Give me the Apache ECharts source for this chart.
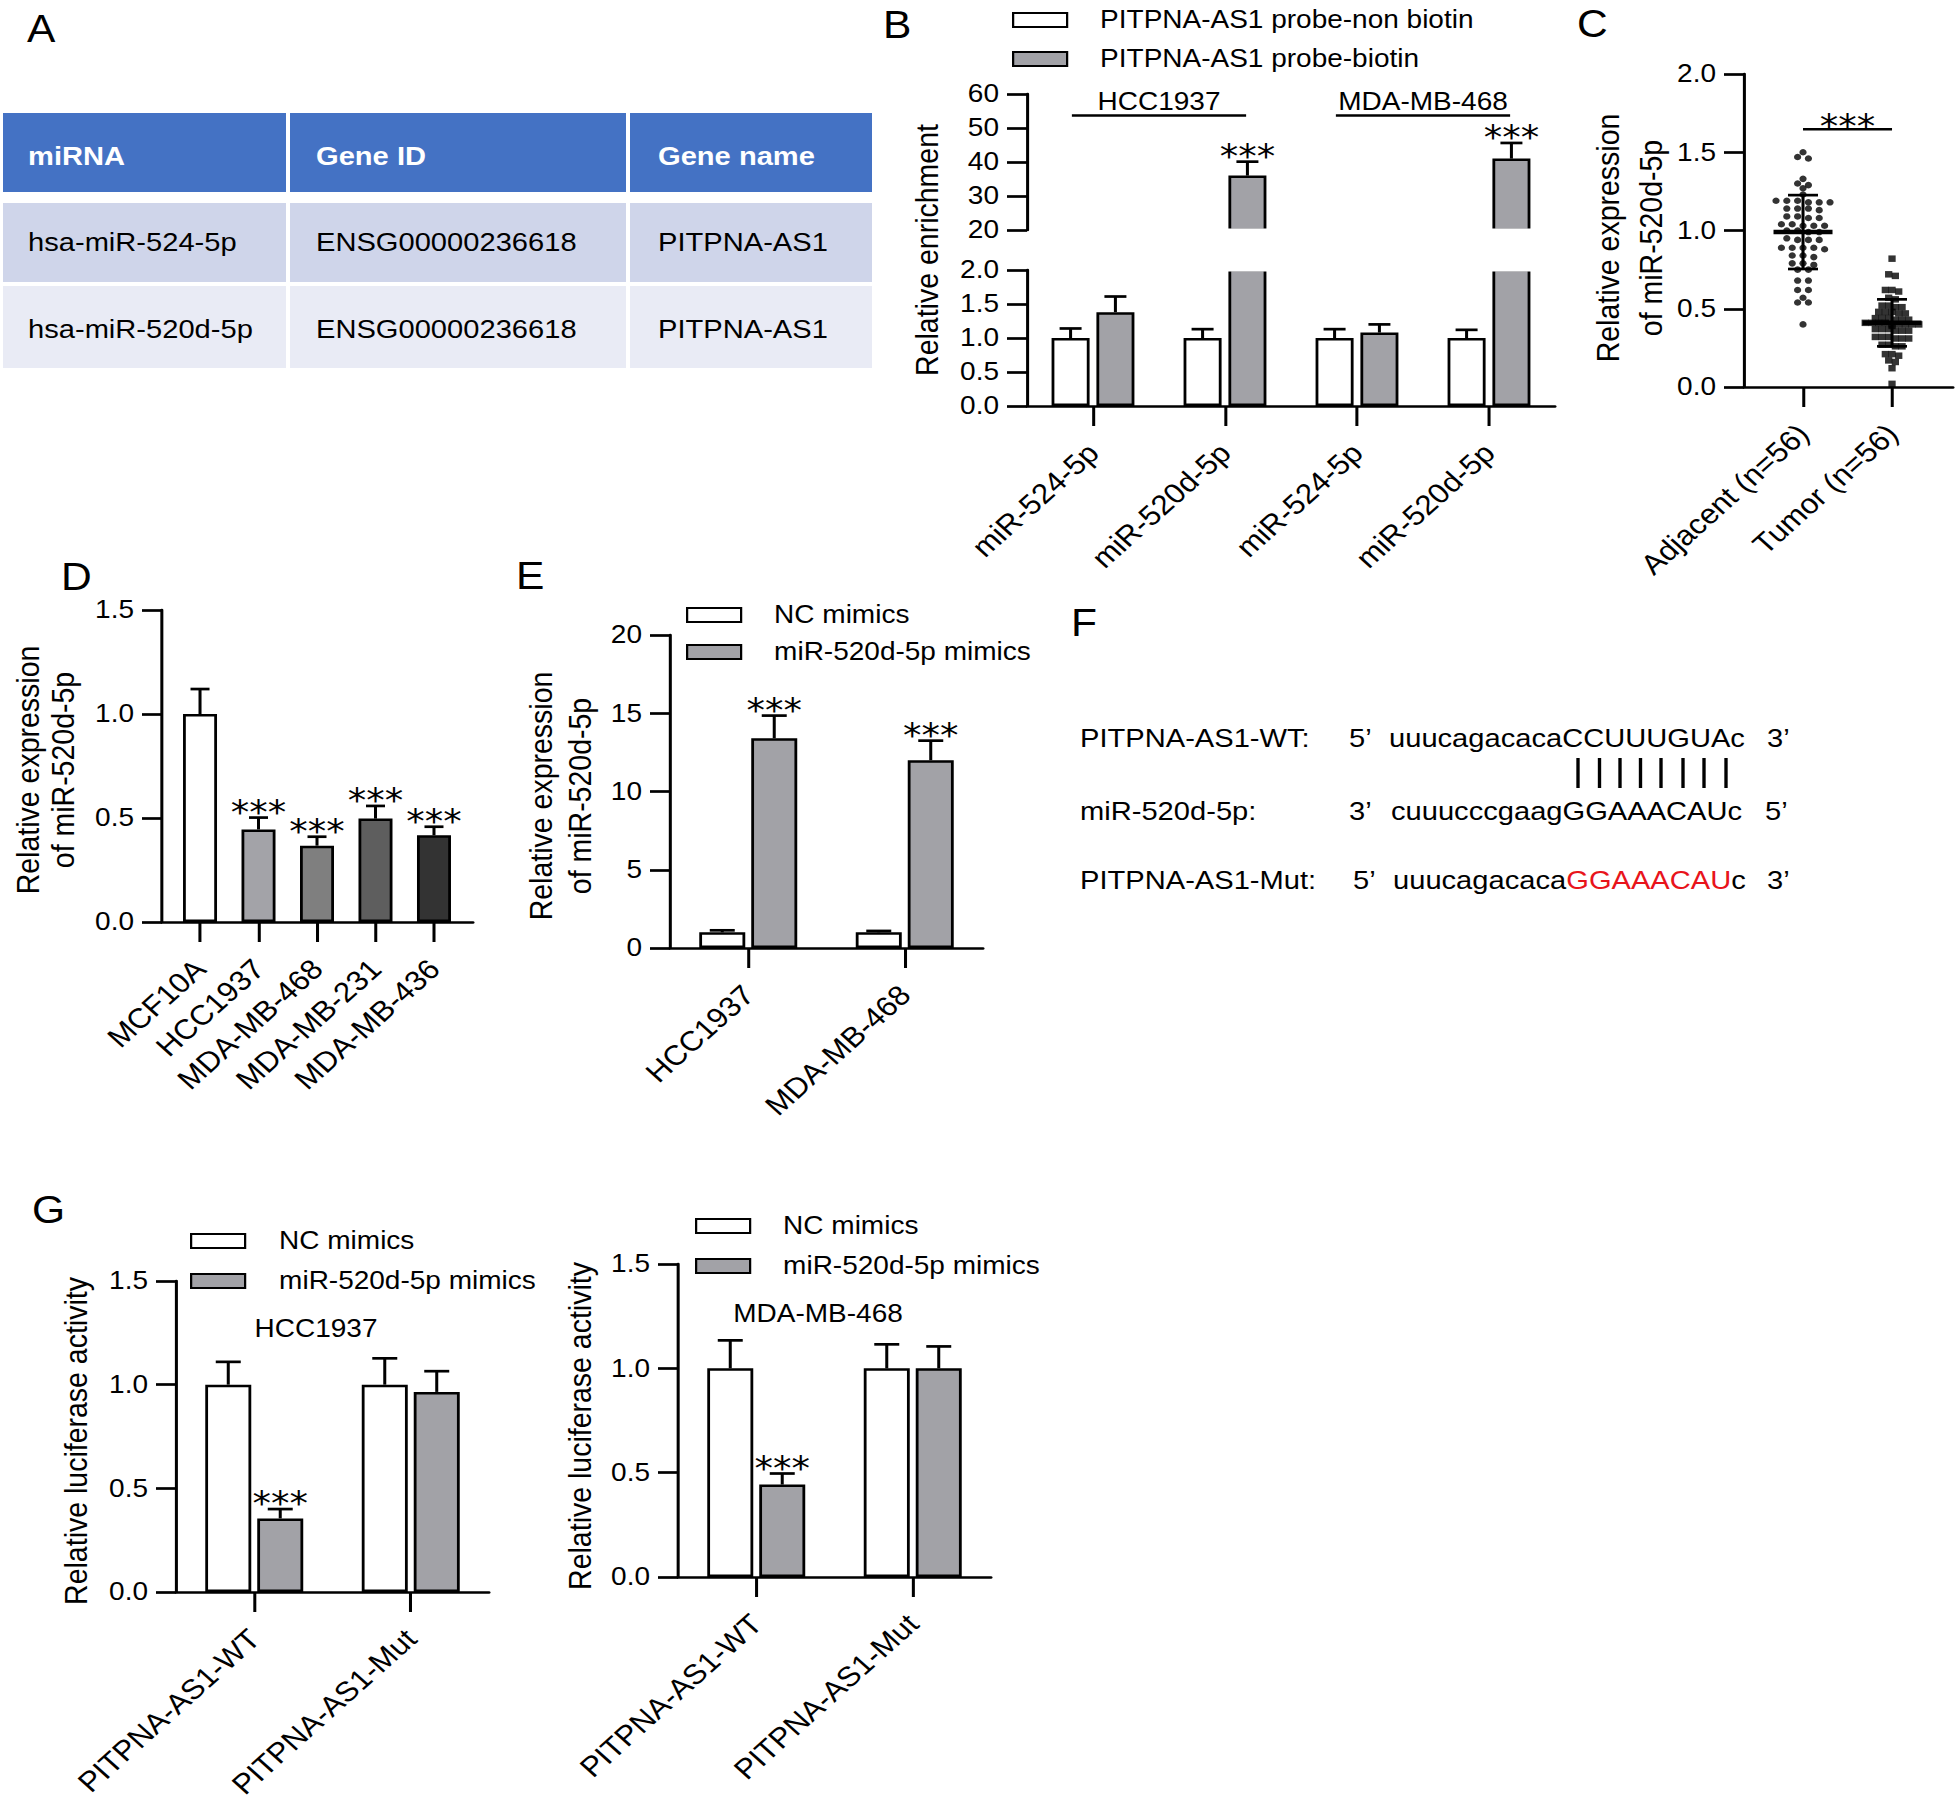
<!DOCTYPE html>
<html>
<head>
<meta charset="utf-8">
<script src="https://cdn.jsdelivr.net/npm/echarts@6.0.0/dist/echarts.min.js"></script>
<style>
html,body{margin:0;padding:0;background:#fff;overflow:hidden;}
#chart{width:1750px;height:1814px;transform:scaleX(1.12);transform-origin:0 0;}
</style>
</head>
<body>
<div id="chart"></div>
<script>
// ---------------- DATA ----------------
// Panel A
const tableHeader = ['miRNA', 'Gene ID', 'Gene name'];
const tableRow1 = ['hsa-miR-524-5p', 'ENSG00000236618', 'PITPNA-AS1'];
const tableRow2 = ['hsa-miR-520d-5p', 'ENSG00000236618', 'PITPNA-AS1'];

// Panel B
const B_categories = ['miR-524-5p', 'miR-520d-5p', 'miR-524-5p', 'miR-520d-5p'];
const B_groups = ['HCC1937', 'MDA-MB-468'];
const B_groupSpan = [[0, 1], [2, 3]];
const B_series = ['PITPNA-AS1 probe-non biotin', 'PITPNA-AS1 probe-biotin'];
const B_nonBiotin = [1.0, 1.0, 1.0, 1.0];
const B_nonBiotinErr = [0.14, 0.13, 0.13, 0.12];
const B_biotin = [1.38, 36.0, 1.08, 41.0];
const B_biotinErr = [0.23, 4.1, 0.12, 4.6];
const B_sig = ['', '***', '', '***'];

// Panel C
const C_categories = ['Adjacent (n=56)', 'Tumor (n=56)'];
const C_adjacent = [1.50, 1.47, 1.46, 1.33, 1.30, 1.29, 1.27, 1.23, 1.19, 1.18, 1.18, 1.19, 1.18, 1.19,
  1.14, 1.14, 1.14, 1.13, 1.09, 1.08, 1.08, 1.09, 1.04, 1.03, 1.03, 1.04, 1.03, 1.00, 0.99, 1.00, 0.99,
  0.95, 0.94, 0.94, 0.94, 0.89, 0.89, 0.89, 0.89, 0.88, 0.84, 0.83, 0.84, 0.79, 0.78, 0.79, 0.75, 0.75,
  0.68, 0.68, 0.62, 0.62, 0.54, 0.54, 0.57, 0.40];
const C_tumor = [0.82, 0.72, 0.71, 0.62, 0.61, 0.62, 0.57, 0.56, 0.52, 0.51, 0.52, 0.51,
  0.48, 0.47, 0.48, 0.47, 0.48, 0.44, 0.43, 0.44, 0.43, 0.44, 0.43,
  0.40, 0.41, 0.40, 0.41, 0.40, 0.41, 0.40, 0.41, 0.40, 0.39,
  0.37, 0.36, 0.37, 0.36, 0.37, 0.36, 0.32, 0.31, 0.32, 0.31, 0.32, 0.31,
  0.27, 0.26, 0.27, 0.26, 0.21, 0.20, 0.21, 0.17, 0.16, 0.12, 0.02];
const C_mean = [0.99, 0.41];
const C_sd = [0.236, 0.15];
const C_sig = '***';

// Panel D
const D_categories = ['MCF10A', 'HCC1937', 'MDA-MB-468', 'MDA-MB-231', 'MDA-MB-436'];
const D_values = [1.0, 0.445, 0.367, 0.497, 0.417];
const D_err = [0.12, 0.057, 0.043, 0.061, 0.041];
const D_sig = ['', '***', '***', '***', '***'];

// Panel E
const E_categories = ['HCC1937', 'MDA-MB-468'];
const E_series = ['NC mimics', 'miR-520d-5p mimics'];
const E_nc = [1.0, 1.0];
const E_ncErr = [0.13, 0.09];
const E_mimics = [13.4, 12.0];
const E_mimicsErr = [1.45, 1.25];
const E_sig = ['***', '***'];

// Panel F
const F_labels = ['PITPNA-AS1-WT:', 'miR-520d-5p:', 'PITPNA-AS1-Mut:'];
const F_leftEnds = ['5\u2019', '3\u2019', '5\u2019'];
const F_rightEnds = ['3\u2019', '5\u2019', '3\u2019'];
const F_wt = 'uuucagacacaCCUUUGUAc';
const F_mir = 'cuuucccgaagGGAAACAUc';
const F_mutParts = ['uuucagacaca', 'GGAAACAU', 'c'];

// Panel G
const G_categories = ['PITPNA-AS1-WT', 'PITPNA-AS1-Mut'];
const G_series = ['NC mimics', 'miR-520d-5p mimics'];
const G_titles = ['HCC1937', 'MDA-MB-468'];
const G1_nc = [1.0, 1.0];
const G1_ncErr = [0.11, 0.127];
const G1_mimics = [0.355, 0.965];
const G1_mimicsErr = [0.045, 0.10];
const G1_sig = ['***', ''];
const G2_nc = [1.0, 1.0];
const G2_ncErr = [0.134, 0.115];
const G2_mimics = [0.443, 1.0];
const G2_mimicsErr = [0.053, 0.105];
const G2_sig = ['***', ''];

// ---------------- STYLE / LAYOUT ----------------
const SX = 1.12;                 // horizontal stretch of the whole figure
const X = v => v / SX;           // full-image x -> chart x
const FONT = "'Liberation Sans', Arial, Helvetica, sans-serif";
const STAR_FONT = "'DejaVu Sans', sans-serif";
const LW = 2.7;
const BB = 2.5;
const WHITE = '#ffffff';
const GRAY = '#a2a2a7';
const D_colors = ['#ffffff', '#a3a3a8', '#7f7f7f', '#5e5e5e', '#333333'];
const FS = 25;        // tick labels / legend
const FS_X = 28;      // rotated category labels
const FS_T = 28.5;    // axis titles

const chart = echarts.init(document.getElementById('chart'), null, {renderer: 'svg', width: 1750, height: 1814});

const grids = [
  {left: X(1027), top: 94, width: X(528), height: 136},   // 0 B upper
  {left: X(1027), top: 270, width: X(528), height: 136},  // 1 B lower
  {left: X(1744), top: 74, width: X(209), height: 313},   // 2 C
  {left: X(162), top: 610, width: X(311), height: 312},   // 3 D
  {left: X(670), top: 635, width: X(313), height: 313},   // 4 E
  {left: X(176), top: 1281, width: X(313), height: 311},  // 5 G1
  {left: X(678), top: 1264, width: X(313), height: 313}   // 6 G2
].map(g => Object.assign({containLabel: false, outerBoundsMode: 'none'}, g));

const axisLineStyle = {color: '#000', width: LW};
function yAx(gi, min, max, interval, dec) {
  return {type: 'value', gridIndex: gi, min, max, interval,
    axisLine: {show: true, onZero: false, lineStyle: axisLineStyle},
    axisTick: {show: true, length: X(20), lineStyle: axisLineStyle},
    axisLabel: {fontSize: FS, color: '#000', fontFamily: FONT, margin: X(28),
      formatter: v => v.toFixed(dec)},
    splitLine: {show: false}};
}
const labelMargin = 42;
function xCat(gi, cats, show) {
  return {type: 'category', gridIndex: gi, data: cats, boundaryGap: true, show: show !== false,
    axisLine: {show: true, onZero: false, lineStyle: axisLineStyle},
    axisTick: {show: true, alignWithLabel: true, interval: 0, length: 20, lineStyle: axisLineStyle},
    axisLabel: {rotate: 45, interval: 0, fontSize: FS_X, color: '#000', fontFamily: FONT, margin: labelMargin},
    splitLine: {show: false}};
}
function xVal(gi, cats, min, max) {
  const idx = cats.map((c, i) => i);
  return {type: 'value', gridIndex: gi, min, max,
    axisLine: {show: true, onZero: false, lineStyle: axisLineStyle},
    axisTick: {show: true, customValues: idx, length: 20, lineStyle: axisLineStyle},
    axisLabel: {customValues: idx, rotate: 45, fontSize: FS_X, color: '#000', fontFamily: FONT, margin: labelMargin,
      formatter: v => cats[Math.round(v)]},
    splitLine: {show: false}};
}

const xAxes = [
  xCat(0, B_categories, false),
  xCat(1, B_categories),
  xVal(2, C_categories, -0.663, 1.685),
  xVal(3, D_categories, -0.65, 4.667),
  xCat(4, E_categories),
  xCat(5, G_categories),
  xCat(6, G_categories)
];
const yAxes = [
  yAx(0, 20, 60, 10, 0),
  yAx(1, 0, 2, 0.5, 1),
  yAx(2, 0, 2, 0.5, 1),
  yAx(3, 0, 1.5, 0.5, 1),
  yAx(4, 0, 20, 5, 0),
  yAx(5, 0, 1.5, 0.5, 1),
  yAx(6, 0, 1.5, 0.5, 1)
];

function bar(name, gi, data, color, width, gap) {
  return {type: 'bar', name, xAxisIndex: gi, yAxisIndex: gi, data, barWidth: width, barGap: gap,
    clip: true, silent: true, emphasis: {disabled: true}, z: 2,
    itemStyle: {color, borderColor: '#000', borderWidth: BB}};
}
const STAR_SIZE = 33;
function starText(x, y, s) {
  return {type: 'text', x, y, silent: true,
    style: {text: s, fontSize: STAR_SIZE, fontFamily: STAR_FONT, fill: '#000', align: 'center', verticalAlign: 'middle'}};
}
function err(gi, vals, errs, offset, cap, sig) {
  return {type: 'custom', xAxisIndex: gi, yAxisIndex: gi, silent: true, z: 4,
    data: vals.map((v, i) => [i, v, errs[i]]),
    renderItem(params, api) {
      const i = api.value(0), v = api.value(1), e = api.value(2);
      const cs = params.coordSys;
      const p0 = api.coord([i, v]), p1 = api.coord([i, v + e]);
      if (p0[1] > cs.y + cs.height + 1 || p1[1] < cs.y - 1) return null;
      const x = p0[0] + offset;
      const ch = [
        {type: 'line', shape: {x1: x, y1: p0[1], x2: x, y2: p1[1]}, style: {stroke: '#000', lineWidth: LW}},
        {type: 'line', shape: {x1: x - cap / 2, y1: p1[1], x2: x + cap / 2, y2: p1[1]}, style: {stroke: '#000', lineWidth: LW}}
      ];
      const s = sig && sig[params.dataIndex];
      if (s) ch.push(starText(x, p1[1] - 5.5, s));
      return {type: 'group', children: ch};
    }};
}

// beeswarm-like horizontal spreading of points with similar values
function beeswarm(values, tol) {
  const order = values.map((v, i) => i).sort((a, b) => values[b] - values[a]);
  const slots = new Array(values.length);
  let row = [], start = null;
  const flush = () => { row.forEach((id, k) => { slots[id] = k - (row.length - 1) / 2; }); row = []; };
  order.forEach(id => {
    if (start === null || start - values[id] > tol) { flush(); start = values[id]; }
    row.push(id);
  });
  flush();
  return slots;
}

const series = [];
// ---- B ----
const bW = X(38), bGap = 0.18;
const bOff = bW * (1 + bGap) / 2;
[0, 1].forEach(gi => {
  series.push(bar(B_series[0], gi, B_nonBiotin, WHITE, bW, bGap * 100 + '%'));
  series.push(bar(B_series[1], gi, B_biotin, GRAY, bW, bGap * 100 + '%'));
  series.push(err(gi, B_nonBiotin, B_nonBiotinErr, -bOff, X(22), null));
  series.push(err(gi, B_biotin, B_biotinErr, bOff, X(22), B_sig));
});
series.push({type: 'custom', xAxisIndex: 0, yAxisIndex: 0, silent: true, z: 5,
  data: B_groupSpan.map(s => [s[0], s[1]]),
  renderItem(params, api) {
    const band = api.size([1, 0])[0];
    const a = api.coord([api.value(0), 40]), b = api.coord([api.value(1), 40]);
    const ly = params.coordSys.y + 21.5;
    const x1 = a[0] - 0.16 * band, x2 = b[0] + 0.16 * band;
    return {type: 'group', children: [
      {type: 'line', shape: {x1, y1: ly, x2, y2: ly}, style: {stroke: '#000', lineWidth: LW}},
      {type: 'text', x: (x1 + x2) / 2, y: ly - 13.5,
        style: {text: B_groups[params.dataIndex], fontSize: FS, fontFamily: FONT, fill: '#000', align: 'center', verticalAlign: 'middle'}}
    ]};
  }});

// ---- C ----
const slotsAdj = beeswarm(C_adjacent, 0.015);
const slotsTum = beeswarm(C_tumor, 0.015);
series.push({type: 'scatter', xAxisIndex: 2, yAxisIndex: 2, silent: true, symbol: 'circle', symbolSize: 6.5, z: 3,
  itemStyle: {color: '#000'},
  data: C_adjacent.map((v, i) => ({value: [0, v], symbolOffset: [slotsAdj[i] * X(10.8), 0]}))});
series.push({type: 'scatter', xAxisIndex: 2, yAxisIndex: 2, silent: true, symbol: 'rect', symbolSize: 6.5, z: 3,
  itemStyle: {color: '#000'},
  data: C_tumor.map((v, i) => ({value: [1, v], symbolOffset: [slotsTum[i] * X(6.7), 0]}))});
series.push({type: 'custom', xAxisIndex: 2, yAxisIndex: 2, silent: true, z: 5,
  data: C_mean.map((m, i) => [i, m, C_sd[i]]),
  renderItem(params, api) {
    const c = api.value(0), m = api.value(1), s = api.value(2);
    const pm = api.coord([c, m]), pt = api.coord([c, m + s]), pb = api.coord([c, m - s]);
    const hw = X(59) / 2, cw = X(30) / 2;
    const st = {stroke: '#000', lineWidth: LW};
    return {type: 'group', children: [
      {type: 'line', shape: {x1: pm[0] - hw, y1: pm[1], x2: pm[0] + hw, y2: pm[1]}, style: {stroke: '#000', lineWidth: 4.5}},
      {type: 'line', shape: {x1: pt[0], y1: pt[1], x2: pb[0], y2: pb[1]}, style: st},
      {type: 'line', shape: {x1: pt[0] - cw, y1: pt[1], x2: pt[0] + cw, y2: pt[1]}, style: st},
      {type: 'line', shape: {x1: pb[0] - cw, y1: pb[1], x2: pb[0] + cw, y2: pb[1]}, style: st}
    ]};
  }});
const C_max = Math.max(...C_adjacent, ...C_tumor);
series.push({type: 'custom', xAxisIndex: 2, yAxisIndex: 2, silent: true, z: 5,
  data: [[0, 1]],
  renderItem(params, api) {
    const a = api.coord([api.value(0), C_max]), b = api.coord([api.value(1), C_max]);
    const ly = a[1] - 23;
    return {type: 'group', children: [
      {type: 'line', shape: {x1: a[0], y1: ly, x2: b[0], y2: ly}, style: {stroke: '#000', lineWidth: LW}},
      starText((a[0] + b[0]) / 2, ly - 3.5, C_sig)
    ]};
  }});

// ---- D ----
series.push({type: 'bar', xAxisIndex: 3, yAxisIndex: 3, barWidth: X(34), clip: true, silent: true, z: 2,
  emphasis: {disabled: true},
  data: D_values.map((v, i) => ({value: [i, v], itemStyle: {color: D_colors[i], borderColor: '#000', borderWidth: BB}}))});
series.push(err(3, D_values, D_err, 0, X(19), D_sig));

// ---- E / G ----
const eW = X(46), eGap = 0.13;
const eOff = eW * (1 + eGap) / 2;
function pairPanel(gi, names, a, aErr, b, bErr, sig) {
  series.push(bar(names[0], gi, a, WHITE, eW, eGap * 100 + '%'));
  series.push(bar(names[1], gi, b, GRAY, eW, eGap * 100 + '%'));
  series.push(err(gi, a, aErr, -eOff, X(25), null));
  series.push(err(gi, b, bErr, eOff, X(25), sig));
}
pairPanel(4, E_series, E_nc, E_ncErr, E_mimics, E_mimicsErr, E_sig);
pairPanel(5, G_series, G1_nc, G1_ncErr, G1_mimics, G1_mimicsErr, G1_sig);
pairPanel(6, G_series, G2_nc, G2_ncErr, G2_mimics, G2_mimicsErr, G2_sig);

// ---- legends ----
function mkLegend(names, rectLeft, firstY, rowSpacing, textGap) {
  return {data: names, orient: 'vertical', left: X(rectLeft), top: firstY - 12.5, padding: 0,
    itemWidth: X(54), itemHeight: 14, itemGap: rowSpacing - 25, icon: 'rect', selectedMode: false,
    textStyle: {fontSize: FS, color: '#000', fontFamily: FONT, lineHeight: 25, padding: [0, 0, 0, X(textGap) - 5]}};
}
const legends = [
  mkLegend(B_series, 1012, 20, 39, 33),
  mkLegend(E_series, 686, 615, 37, 33),
  mkLegend(G_series, 190, 1241, 40, 34),
  mkLegend(G_series, 695, 1226, 40, 33)
];

// ---- graphic: letters, table, F diagram, axis titles ----
const gfx = [];
function txt(xFull, y, text, o) {
  o = o || {};
  gfx.push({type: 'text', x: X(xFull), y, rotation: o.rot || 0, silent: true,
    style: {text, fill: o.color || '#000', fontSize: o.size || FS, fontFamily: FONT,
      fontWeight: o.weight || 'normal', align: o.align || 'left', verticalAlign: 'middle', rich: o.rich}});
}
// panel letters
[['A', 27, 28.5], ['B', 883, 25], ['C', 1577, 23.6], ['D', 61, 576.5], ['E', 516, 575.5], ['F', 1071, 623], ['G', 32, 1210]]
  .forEach(l => txt(l[1], l[2], l[0], {size: 38}));

// table (panel A)
const colX = [[3, 286], [290, 626], [630, 872]];
const rowY = [[113, 192], [203, 282], [286, 368]];
const rowFill = ['#4472C4', '#CFD5EA', '#E9EBF5'];
const textX = [28, 316, 658];
const textY = [156, 242, 329];
[tableHeader, tableRow1, tableRow2].forEach((row, r) => {
  row.forEach((cell, c) => {
    gfx.push({type: 'rect', silent: true, shape: {x: X(colX[c][0]), y: rowY[r][0], width: X(colX[c][1] - colX[c][0]), height: rowY[r][1] - rowY[r][0]},
      style: {fill: rowFill[r]}});
    txt(textX[c], textY[r], cell, {size: 26, color: r === 0 ? '#fff' : '#000', weight: r === 0 ? 'bold' : 'normal'});
  });
});

// panel F
const fRowY = [738, 811, 880];
const fLeftX = [1349, 1349, 1353];
const fSeqX = [1389, 1391, 1393];
const fRightX = [1767, 1765, 1767];
F_labels.forEach((lab, r) => {
  txt(1080, fRowY[r], lab, {size: 26});
  txt(fLeftX[r], fRowY[r], F_leftEnds[r], {size: 26});
  txt(fRightX[r], fRowY[r], F_rightEnds[r], {size: 26});
});
txt(fSeqX[0], fRowY[0], F_wt, {size: 26});
txt(fSeqX[1], fRowY[1], F_mir, {size: 26});
txt(fSeqX[2], fRowY[2], '{n|' + F_mutParts[0] + '}{r|' + F_mutParts[1] + '}{n|' + F_mutParts[2] + '}', {size: 26,
  rich: {n: {fontSize: 26, fontFamily: FONT, fill: '#000'}, r: {fontSize: 26, fontFamily: FONT, fill: '#e8141b'}}});
[1578, 1599.5, 1620, 1640.5, 1661, 1683, 1704, 1726].forEach(x => {
  gfx.push({type: 'line', silent: true, shape: {x1: X(x), y1: 758, x2: X(x), y2: 788}, style: {stroke: '#000', lineWidth: 3}});
});

// axis titles
const R = Math.PI / 2;
const T = {rot: R, align: 'center', size: FS_T};
txt(927, 250, 'Relative enrichment', T);
txt(1608, 238, 'Relative expression', T);
txt(1651, 238, 'of miR-520d-5p', T);
txt(28, 770, 'Relative expression', T);
txt(63, 770, 'of miR-520d-5p', T);
txt(541, 796, 'Relative expression', T);
txt(580, 796, 'of miR-520d-5p', T);
txt(76, 1441, 'Relative luciferase activity', T);
txt(580, 1426, 'Relative luciferase activity', T);
// G subtitles
txt(316, 1329, G_titles[0], {align: 'center'});
txt(818, 1314, G_titles[1], {align: 'center'});

// axis break gap of panel B (open ends of the broken bars)
gfx.push({type: 'rect', silent: true, z: 100,
  shape: {x: X(1030), y: 228.4, width: X(530), height: 43.2}, style: {fill: '#ffffff'}});

chart.setOption({
  animation: false,
  backgroundColor: '#ffffff',
  textStyle: {fontFamily: FONT, color: '#000'},
  grid: grids,
  xAxis: xAxes,
  yAxis: yAxes,
  legend: legends,
  series,
  graphic: {elements: gfx}
});
</script>
</body>
</html>
